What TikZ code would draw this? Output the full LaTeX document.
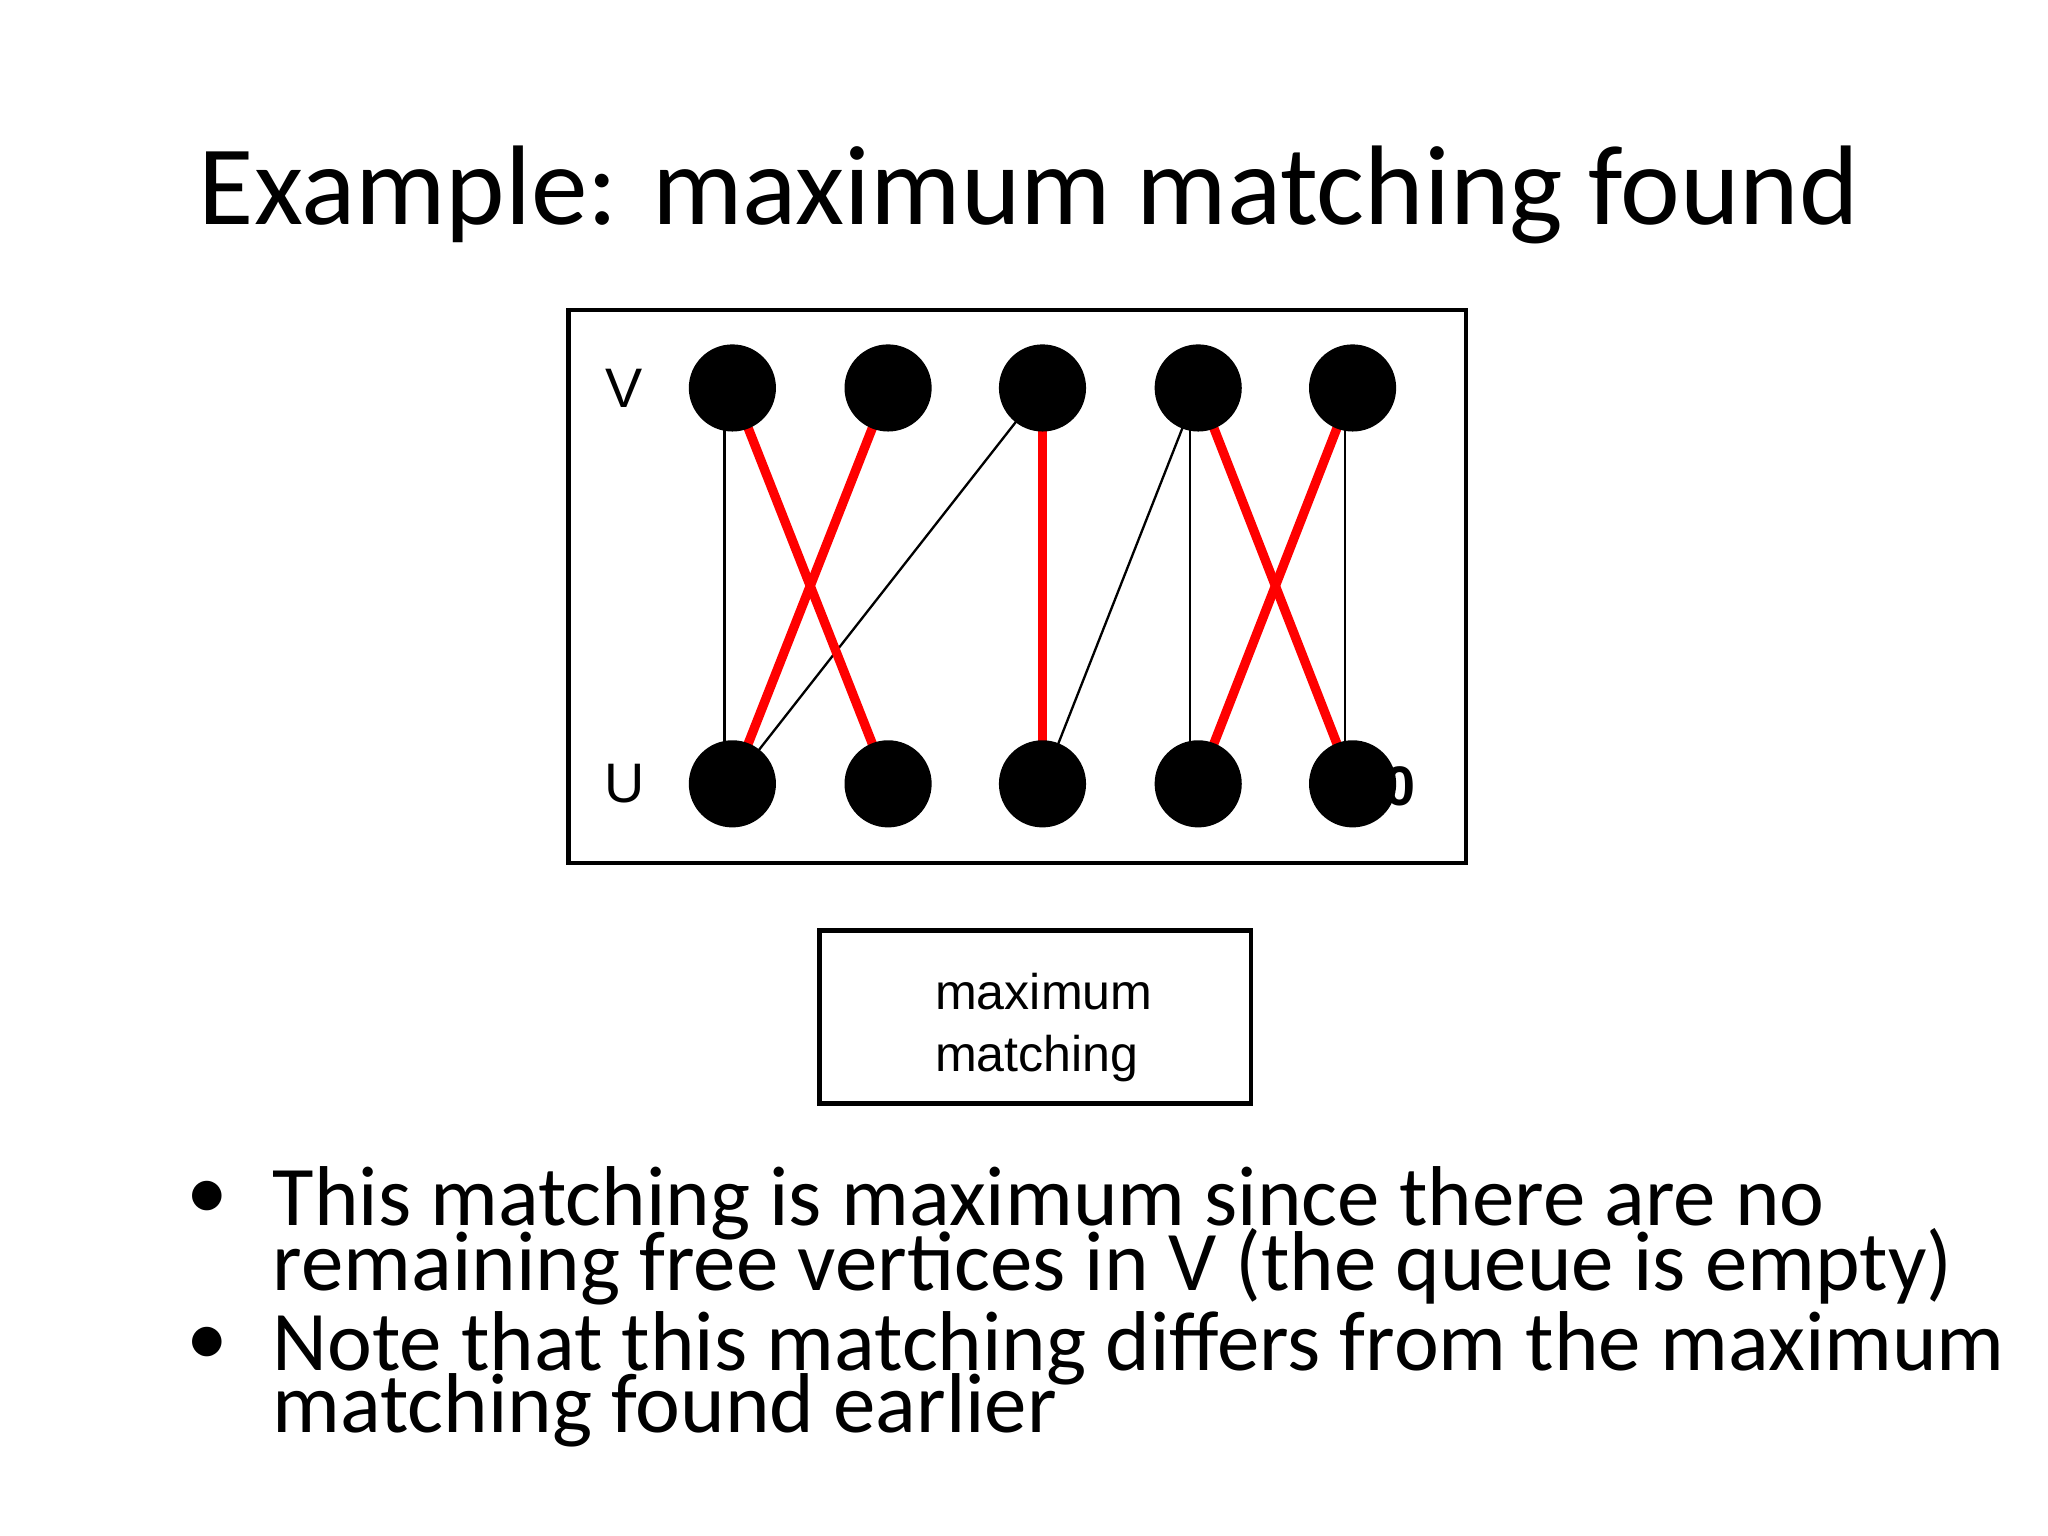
\documentclass[tikz,border=0pt]{standalone}
\usepackage{fontspec}
\setmainfont{Carlito}
\newfontfamily\arialf{Liberation Sans}
\begin{document}
\begin{tikzpicture}[x=0.01cm,y=-0.01cm,
  vtx/.style={circle,fill=black,minimum size=0.66cm,inner sep=0pt},
  thin/.style={black,line width=0.5pt},
  red/.style={draw=red,line width=2pt},
  txt/.style={anchor=west,inner sep=0pt,font=\fontsize{18.3}{18.3}\selectfont}]
\useasboundingbox (0,0) rectangle (1552,1164);
\node[anchor=west,inner sep=0pt,font=\fontsize{24.4}{24.4}\selectfont] (title) at (150,148) {Example: maximum matching found};
\draw[line width=1pt] (431,235) rectangle (1111,654);
\node[font=\arialf\fontsize{12}{12}\selectfont] (lv) at (473,294) {V};
\node[font=\arialf\fontsize{12}{12}\selectfont] (lu) at (473,594) {U};
\node[font=\arialf\bfseries\fontsize{12}{12}\selectfont,anchor=east,inner sep=0pt] (ten) at (1073,596) {10};
\foreach \i/\x in {1/555,2/673,3/790,4/908,5/1025}{
  \coordinate (pv\i) at (\x,294);
  \coordinate (pu\i) at (\x,594);
}
\draw[thin] ([xshift=-0.06cm]pv1) -- ([xshift=-0.06cm]pu1);
\draw[thin] ([xshift=-0.06cm]pv4) -- ([xshift=-0.06cm]pu4);
\draw[thin] ([xshift=-0.06cm]pv5) -- ([xshift=-0.06cm]pu5);
\draw[thin] (pv3) -- (pu1);
\draw[thin] (pv4) -- (pu3);
\draw[red] (pv1) -- (pu2);
\draw[red] (pv2) -- (pu1);
\draw[red] (pv3) -- (pu3);
\draw[red] (pv4) -- (pu5);
\draw[red] (pv5) -- (pu4);
\foreach \i in {1,...,5}{
  \node[vtx] (v\i) at (pv\i) {};
  \node[vtx] (u\i) at (pu\i) {};
}
\draw[line width=1pt] (621,705) rectangle (948,836);
\node[anchor=north west,inner sep=0pt,align=left,font=\arialf\fontsize{10.8}{13.4}\selectfont] (lab) at (708,737) {maximum\\matching};
\node[inner sep=0pt,font=\fontsize{18}{18}\selectfont] (b1) at (157,910) {•};
\node[inner sep=0pt,font=\fontsize{18}{18}\selectfont] (b2) at (157,1020) {•};
\node[txt] (t1) at (206,912) {This matching is maximum since there are no};
\node[txt] (t2) at (206,960) {remaining free vertices in V (the queue is empty)};
\node[txt] (t3) at (206,1022) {Note that this matching differs from the maximum};
\node[txt] (t4) at (206,1069) {matching found earlier};
\end{tikzpicture}
\end{document}
